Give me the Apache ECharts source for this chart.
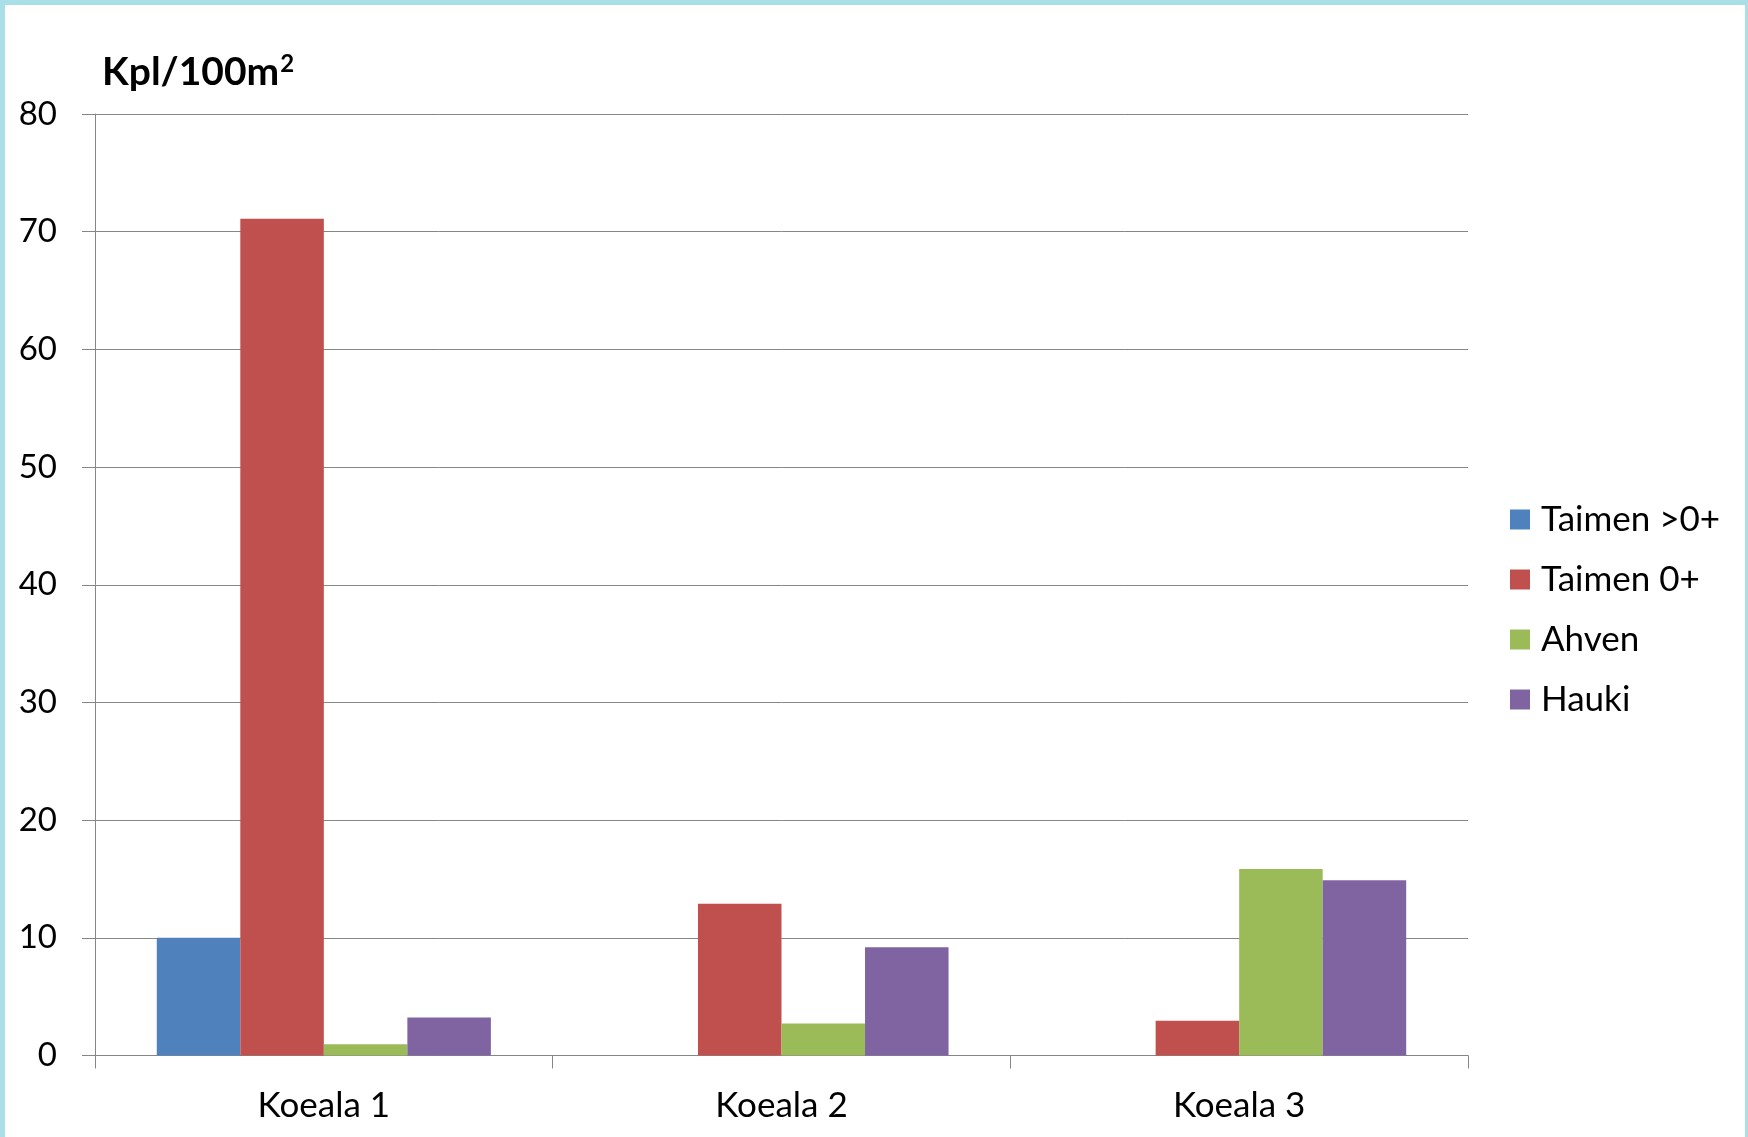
<!DOCTYPE html>
<html>
<head>
<meta charset="utf-8">
<script src="https://cdn.jsdelivr.net/npm/echarts@6/dist/echarts.min.js"></script>
<style>
  html, body { margin: 0; padding: 0; width: 1748px; height: 1137px; overflow: hidden; background: #abdfe7; }
  #panel { position: absolute; left: 5px; top: 5px; right: 3px; bottom: 0; background: #ffffff; }
  #chart { position: absolute; left: 0; top: 0; width: 1748px; height: 1137px; }
</style>
</head>
<body>
<div id="panel"></div>
<div id="chart"></div>
<script>
const categories = ['Koeala 1', 'Koeala 2', 'Koeala 3'];
const seriesNames = ['Taimen >0+', 'Taimen 0+', 'Ahven', 'Hauki'];
const taimenYli0 = [10, 0, 0];
const taimen0 = [71.1, 12.9, 2.95];
const ahven = [0.96, 2.72, 15.85];
const hauki = [3.23, 9.2, 14.9];
const yTicks = { min: 0, max: 80, interval: 10 };

const colors = ['#4F81BD', '#C0504D', '#9BBB59', '#8064A2'];
const values = [taimenYli0, taimen0, ahven, hauki];
const FONT = 'Lato, "Open Sans", sans-serif';

const chart = echarts.init(document.getElementById('chart'), null, { renderer: 'canvas' });
chart.setOption({
  animation: false,
  backgroundColor: 'transparent',
  color: colors,
  title: {
    text: 'Kpl/100m{sup|2}',
    left: 102,
    top: 52,
    padding: 0,
    textStyle: {
      fontFamily: FONT,
      fontWeight: 'bold',
      fontSize: 39,
      color: '#000',
      rich: {
        sup: { fontFamily: FONT, fontWeight: 'bold', fontSize: 24, color: '#000', verticalAlign: 'top', padding: [0, 0, 16, 1] }
      }
    }
  },
  legend: {
    orient: 'vertical',
    left: 1510,
    top: 502,
    padding: 0,
    itemWidth: 20,
    itemHeight: 20,
    itemGap: 25,
    icon: 'rect',
    data: seriesNames,
    textStyle: { fontFamily: FONT, fontSize: 35, color: '#000', lineHeight: 35, padding: [0, 0, 0, 6] }
  },
  grid: { left: 95, right: 280, top: 114, bottom: 81.5, containLabel: false },
  xAxis: {
    type: 'category',
    data: categories,
    boundaryGap: true,
    axisLine: { show: true, lineStyle: { color: '#868686', width: 1 } },
    axisTick: { show: true, length: 13, lineStyle: { color: '#868686' }, alignWithLabel: false },
    axisLabel: { fontFamily: FONT, fontSize: 35, color: '#000', margin: 33 },
    splitLine: { show: false }
  },
  yAxis: {
    type: 'value',
    min: yTicks.min,
    max: yTicks.max,
    interval: yTicks.interval,
    axisLine: { show: true, lineStyle: { color: '#868686', width: 1 } },
    axisTick: { show: true, length: 13, lineStyle: { color: '#868686' } },
    axisLabel: { fontFamily: FONT, fontSize: 33, color: '#000', margin: 38 },
    splitLine: { show: true, lineStyle: { color: '#868686', width: 1 } }
  },
  series: seriesNames.map((name, i) => ({
    name: name,
    type: 'bar',
    data: values[i],
    barGap: '0%',
    barCategoryGap: '27%',
    itemStyle: { color: colors[i] }
  }))
});
</script>
</body>
</html>
